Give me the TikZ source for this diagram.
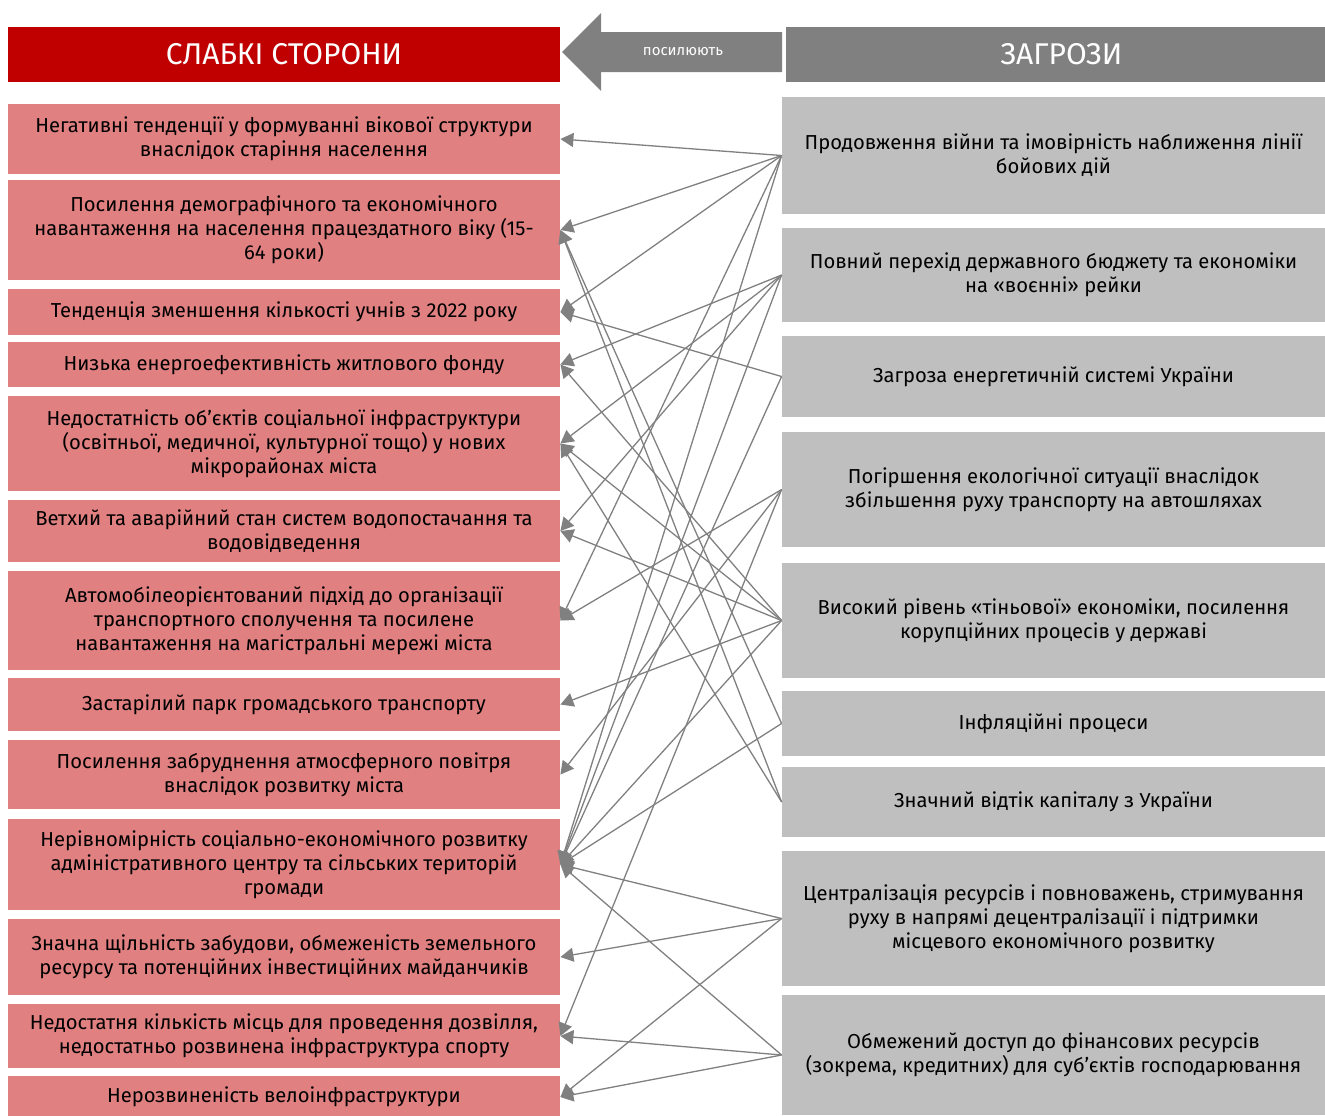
\documentclass[tikz,border=0pt]{standalone}
\usepackage{fontspec}
\setmainfont{Fira Sans}
\usetikzlibrary{arrows.meta}
\definecolor{weakred}{HTML}{C00000}
\definecolor{weakbox}{HTML}{E08080}
\definecolor{threatbox}{HTML}{BFBFBF}
\definecolor{headgray}{HTML}{808080}

\begin{document}
\begin{tikzpicture}[
  x=0.5pt,y=-0.5pt,
  lbox/.style={fill=weakbox,minimum width=276pt,inner sep=0pt,align=center,font=\fontsize{10.1}{12}\selectfont},
  rbox/.style={fill=threatbox,minimum width=271.5pt,inner sep=0pt,align=center,font=\fontsize{10.1}{12}\selectfont},
  head/.style={minimum height=27.5pt,inner sep=0pt,text=white,font=\fontsize{15}{17}\selectfont},
  edge/.style={-{Triangle[length=6.5pt,width=7pt]},headgray,line width=0.65pt}
]
  \useasboundingbox (0,0) rectangle (1325,1115);

  % headers
  \node[head,fill=weakred,minimum width=276pt] (weak) at (284,54.5) {СЛАБКІ СТОРОНИ};
  \node[head,fill=headgray,minimum width=269.5pt] (threat) at (1055.5,54.5) {\hspace*{6pt}ЗАГРОЗИ};
  \fill[headgray] (562,52) -- (601,13) -- (601,32) -- (782,32) -- (782,72) -- (601,72) -- (601,91) -- cycle;
  \node[text=white,font=\fontsize{7.5}{8}\selectfont] (amp) at (683,52) {посилюють};

  % weaknesses
  \node[lbox,minimum height=35pt] (l1) at (284,139) {Негативні тенденції у формуванні вікової структури\\внаслідок старіння населення};
  \node[lbox,minimum height=50pt] (l2) at (284,230) {Посилення демографічного та економічного\\навантаження на населення працездатного віку (15-\\64 роки)};
  \node[lbox,minimum height=23pt] (l3) at (284,312) {Тенденція зменшення кількості учнів з 2022 року};
  \node[lbox,minimum height=22.5pt] (l4) at (284,364.5) {Низька енергоефективність житлового фонду};
  \node[lbox,minimum height=47.5pt] (l5) at (284,443.5) {Недостатність об’єктів соціальної інфраструктури\\(освітньої, медичної, культурної тощо) у нових\\мікрорайонах міста};
  \node[lbox,minimum height=31pt] (l6) at (284,531) {Ветхий та аварійний стан систем водопостачання та\\водовідведення};
  \node[lbox,minimum height=49.5pt] (l7) at (284,620.5) {Автомобілеорієнтований підхід до організації\\транспортного сполучення та посилене\\навантаження на магістральні мережі міста};
  \node[lbox,minimum height=26.5pt] (l8) at (284,704.5) {Застарілий парк громадського транспорту};
  \node[lbox,minimum height=34.5pt] (l9) at (284,774.5) {Посилення забруднення атмосферного повітря\\внаслідок розвитку міста};
  \node[lbox,minimum height=45.5pt] (l10) at (284,864.5) {Нерівномірність соціально-економічного розвитку\\адміністративного центру та сільських територій\\громади};
  \node[lbox,minimum height=38pt] (l11) at (284,957) {Значна щільність забудови, обмеженість земельного\\ресурсу та потенційних інвестиційних майданчиків};
  \node[lbox,minimum height=32pt] (l12) at (284,1036) {Недостатня кількість місць для проведення дозвілля,\\недостатньо розвинена інфраструктура спорту};
  \node[lbox,minimum height=21pt] (l13) at (284,1097) {Нерозвиненість велоінфраструктури};

  % threats
  \node[rbox,minimum height=58.5pt] (r1) at (1053.5,155.5) {Продовження війни та імовірність наближення лінії\\бойових дій};
  \node[rbox,minimum height=47pt] (r2) at (1053.5,275) {Повний перехід державного бюджету та економіки\\на «воєнні» рейки};
  \node[rbox,minimum height=40.5pt] (r3) at (1053.5,376.5) {Загроза енергетичній системі України};
  \node[rbox,minimum height=57.5pt] (r4) at (1053.5,489.5) {Погіршення екологічної ситуації внаслідок\\збільшення руху транспорту на автошляхах};
  \node[rbox,minimum height=57.5pt] (r5) at (1053.5,620.5) {Високий рівень «тіньової» економіки, посилення\\корупційних процесів у державі};
  \node[rbox,minimum height=32.5pt] (r6) at (1053.5,723.5) {Інфляційні процеси};
  \node[rbox,minimum height=35pt] (r7) at (1053.5,802) {Значний відтік капіталу з України};
  \node[rbox,minimum height=67.5pt] (r8) at (1053.5,918.5) {Централізація ресурсів і повноважень, стримування\\руху в напрямі децентралізації і підтримки\\місцевого економічного розвитку};
  \node[rbox,minimum height=60pt] (r9) at (1053.5,1055) {Обмежений доступ до фінансових ресурсів\\(зокрема, кредитних) для суб'єктів господарювання};

  % links
  \foreach \r/\l in {r1/l1,r1/l2,r1/l3,r1/l7,r1/l10,
                     r2/l4,r2/l5,r2/l6,r2/l10,
                     r3/l3,r3/l10,
                     r4/l7,r4/l9,r4/l12,
                     r5/l4,r5/l5,r5/l6,r5/l8,r5/l10,
                     r6/l2,r6/l10,
                     r7/l2,r7/l5,
                     r8/l10,r8/l11,r8/l13,
                     r9/l10,r9/l12,r9/l13}
    \draw[edge] (\r.west) -- (\l.east);
\end{tikzpicture}
\end{document}
